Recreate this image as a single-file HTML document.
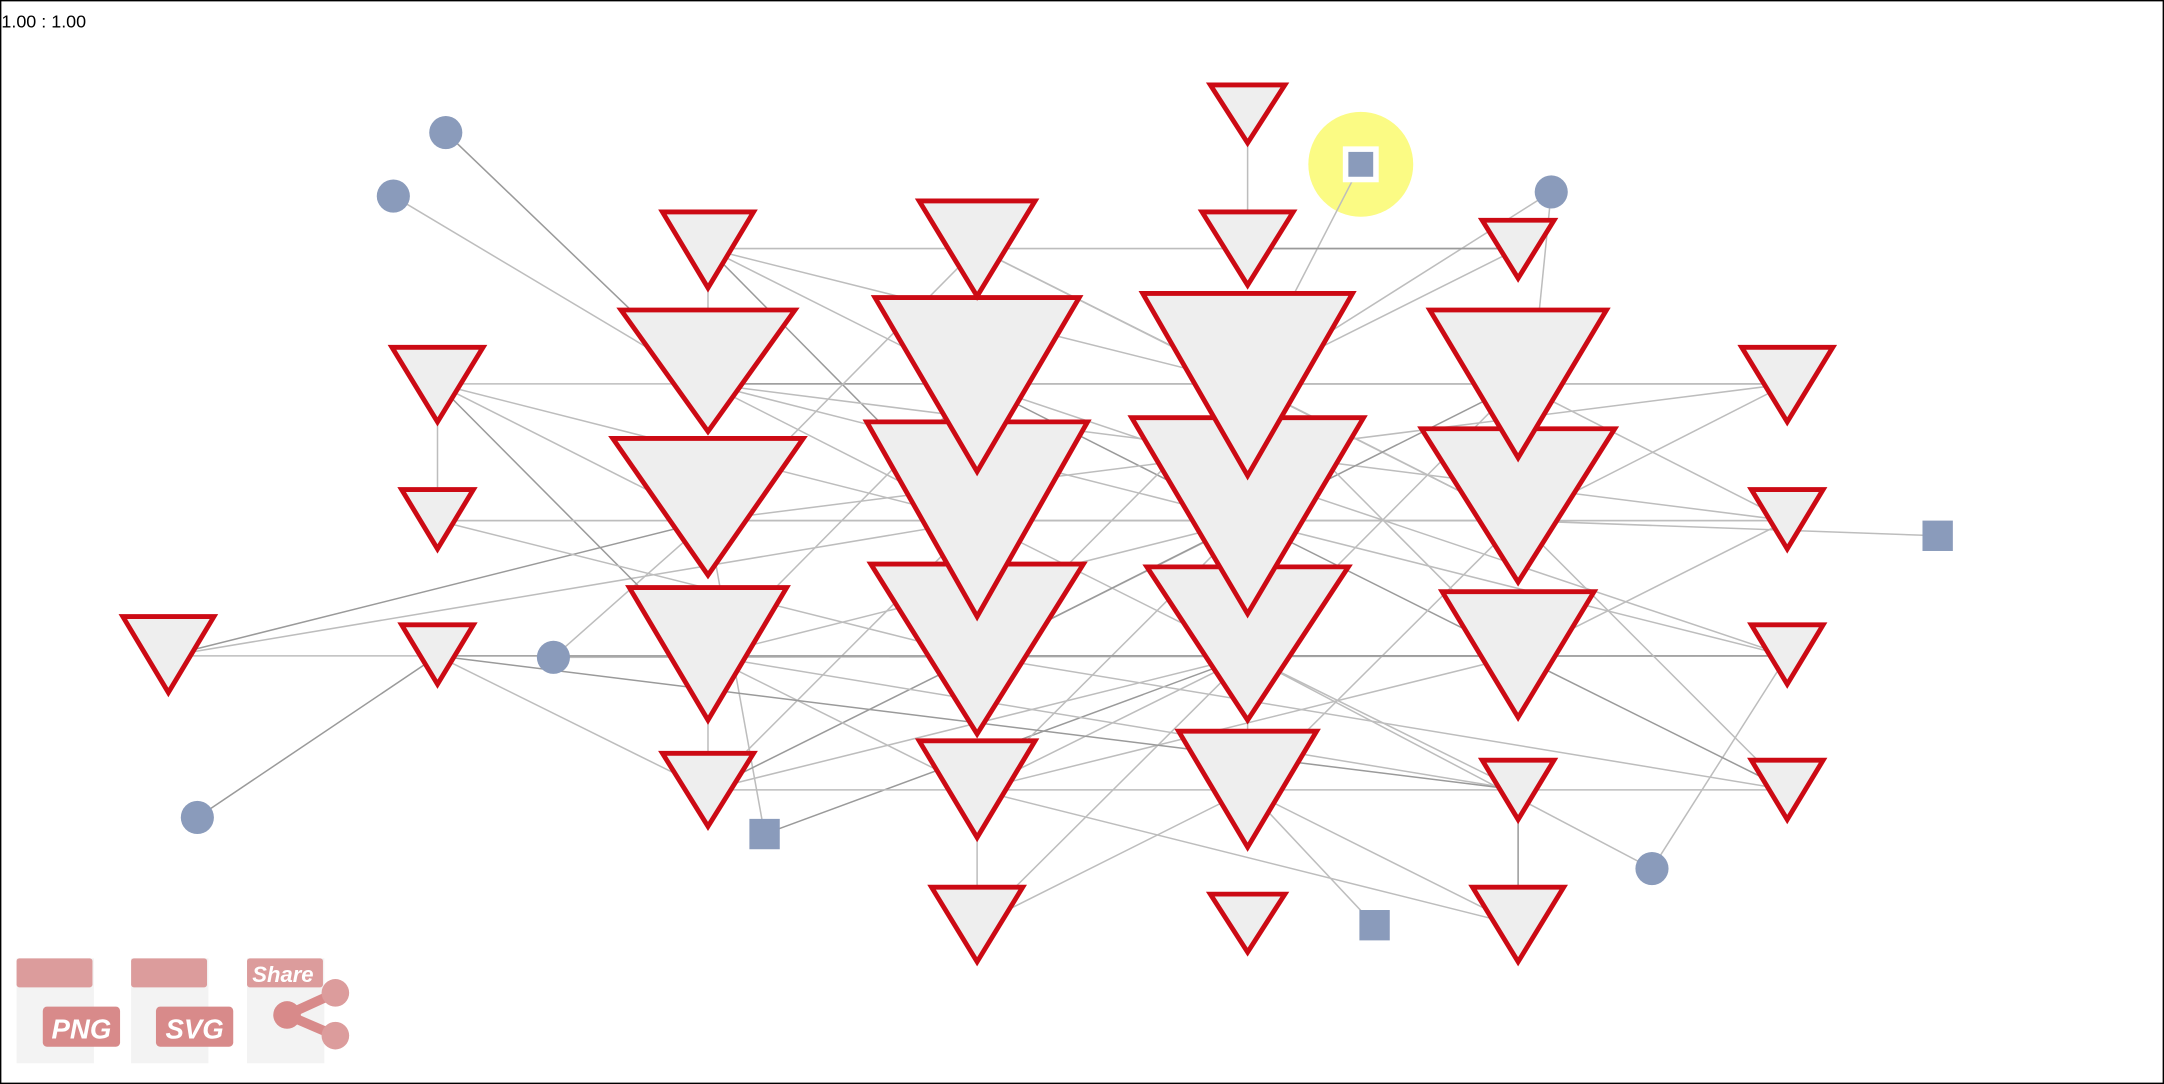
<!DOCTYPE html>
<html><head><meta charset="utf-8"><style>
html,body{margin:0;padding:0;background:#fff;}
#wrap{position:relative;width:2164px;height:1084px;overflow:hidden;}
svg{position:absolute;left:0;top:0;}
</style></head><body>
<div id="wrap">
<svg id="chart" width="2164" height="1084" viewBox="0 0 1568 785" preserveAspectRatio="none">
<rect x="0.5" y="0.5" width="1567" height="784" fill="#fff" stroke="#000" stroke-width="1"/>
<text x="1" y="20" font-family="Liberation Sans, sans-serif" font-size="13" fill="#000">1.00 : 1.00</text>
<circle cx="986" cy="119" r="38" fill="#fbfb84"/>
<g id="edges"></g>
<g id="nodes"></g>
<g>
<rect x="12" y="694" width="56" height="76" fill="#f3f3f3"/>
<rect x="12" y="694" width="55" height="21" rx="2" fill="#dc9c9c"/>
<rect x="31" y="729" width="56" height="29" rx="3" fill="#d88a8a"/>
<text x="59" y="752" text-anchor="middle" font-family="Liberation Sans, sans-serif" font-weight="bold" font-style="italic" font-size="20" fill="#fff">PNG</text>
</g>
<g>
<rect x="95" y="694" width="56" height="76" fill="#f3f3f3"/>
<rect x="95" y="694" width="55" height="21" rx="2" fill="#dc9c9c"/>
<rect x="113" y="729" width="56" height="29" rx="3" fill="#d88a8a"/>
<text x="141" y="752" text-anchor="middle" font-family="Liberation Sans, sans-serif" font-weight="bold" font-style="italic" font-size="20" fill="#fff">SVG</text>
</g>
<g>
<rect x="179" y="694" width="56" height="76" fill="#f3f3f3"/>
<rect x="179" y="694" width="55" height="21" rx="2" fill="#dc9c9c"/>
<text x="205" y="711" text-anchor="middle" font-family="Liberation Sans, sans-serif" font-weight="bold" font-style="italic" font-size="16" fill="#fff">Share</text>
<line x1="243" y1="719" x2="208" y2="735" stroke="#d88a8a" stroke-width="7"/>
<line x1="243" y1="750" x2="208" y2="735" stroke="#d88a8a" stroke-width="7"/>
<circle cx="243" cy="719" r="10" fill="#dc9c9c"/>
<circle cx="243" cy="750" r="10" fill="#dc9c9c"/>
<circle cx="208" cy="735" r="10" fill="#d88a8a"/>
</g>
</svg>
</div>
<script>
const NS='http://www.w3.org/2000/svg';
const triIds=['G3','A1','A2','A3','B0','B1','B2','B3','B4','C0','C1','C2','C3','C4','C5','D9','D0','D1','D2','D3','D4','D5','E0','E1','E2','E3','E4','E5','F1','F2','F3','F4'];
const triX=[122,317,317,317,513,513,513,513,513,708,708,708,708,708,708,904,904,904,904,904,904,904,1100,1100,1100,1100,1100,1100,1295,1295,1295,1295];
const triY=[475,278,377,475,180,278,377,475,572,180,278,377,475,572,670,82,180,278,377,475,572,670,180,278,377,475,572,670,278,377,475,572];
const triTop=[445,250,353,451,152,223,316,424,544,144,214,304,407,535,641,60,152,211,301,409,528,646,158,223,309,427,549,641,250,353,451,549];
const triTip=[503,307,399,497,210,314,418,523,600,216,343,448,533,608,698,105,208,346,446,523,615,691,203,333,423,521,595,698,307,399,497,595];
const triHW=[34,34,27,27,34,64,70,58,34,43,75,81,78,43,34,28,34,77,85,74,51,28,27,65,71,56,27,34,34,27,27,27];
const circIds=['P1','P2','P3','P4','P5','P6'];
const circX=[323,285,1124,401,143,1197];
const circY=[96,142,139,476,592,629];
const sqIds=['S1','S2','S3','S4'];
const sqX=[986,1404,554,996];
const sqY=[119,388,604,670];
const edgeFrom=['P1','P2','S1','P3','P3','G3','G3','G3','P4','P4','P5','P6','P6','S2','S3','S3','S4','D9','A1','B0','E4','C4','B3',
'B0','B0','B0','B0','A1','A1','A1','A1','A2','A2','B1','B1','B1','B1','C0','C0','C0','C1','C1','C1','C1','C2','C2','C2','C2','C3','C3','C3','C3','D1','D1','D1','D2','D2','D2','D2','D3','D3','D3','D3','E1','E1','E1','E2','E2','E2','E3','E3','E3','B3','B3','B4','A3','C4','C4','C5','D4','D0','E0','F1','F2','A3','A3','B2','E1','D2','C2'];
const edgeTo=['B1','B1','D1','D1','E2','B2','C2','A3','B2','F3','A3','F3','D3','E2','B2','D3','D4','D0','A2','B1','E5','C5','B4',
'C1','E0','C2','D1','F1','B2','C2','B3','F2','C3','C2','D2','E1','F2','B2','D1','E2','D2','E1','B3','F3','D3','E2','B4','F2','D2','E3','B4','F4','E2','C3','F1','E3','F3','B3','C4','E4','F3','B4','C5','D3','F1','C3','D4','F4','B2','D1','F4','C4','C4','E4','F4','E3','D3','E5','D4','E5','E0','D1','E2','E3','B4','E4','F1','F2','D4','A2'];

const pos={};
triIds.forEach((id,i)=>pos[id]=[triX[i],triY[i]]);
circIds.forEach((id,i)=>pos[id]=[circX[i],circY[i]]);
sqIds.forEach((id,i)=>pos[id]=[sqX[i],sqY[i]]);

const eg=document.getElementById('edges');
edgeFrom.forEach((f,i)=>{
  const a=pos[f],b=pos[edgeTo[i]];
  if(!a||!b)return;
  const l=document.createElementNS(NS,'line');
  l.setAttribute('x1',a[0]);l.setAttribute('y1',a[1]);
  l.setAttribute('x2',b[0]);l.setAttribute('y2',b[1]);
  l.setAttribute('stroke',i%5===0?'#9a9a9a':'#bdbdbd');
  l.setAttribute('stroke-width','1.1');
  
  
  eg.appendChild(l);
});
const ng=document.getElementById('nodes');
const order=triIds.map((_,i)=>i).sort((a,b)=>triY[b]-triY[a]);
order.forEach(i=>{
  const cx=triX[i],t=triTop[i]+1.5,p=triTip[i]-1.5,hw=triHW[i]-1;
  const path=document.createElementNS(NS,'path');
  path.setAttribute('d',`M${cx-hw},${t}L${cx+hw},${t}L${cx},${p}Z`);
  path.setAttribute('fill','#eeeeee');
  path.setAttribute('stroke','#cc0a14');
  path.setAttribute('stroke-width','3.5');
  
  
  ng.appendChild(path);
});
circIds.forEach((id,i)=>{
  const c=document.createElementNS(NS,'circle');
  c.setAttribute('cx',circX[i]);c.setAttribute('cy',circY[i]);c.setAttribute('r','12');
  c.setAttribute('fill','#8a9bbb');
  
  
  ng.appendChild(c);
});
sqIds.forEach((id,i)=>{
  const r=document.createElementNS(NS,'rect');
  r.setAttribute('x',sqX[i]-11);r.setAttribute('y',sqY[i]-11);
  r.setAttribute('width','22');r.setAttribute('height','22');
  r.setAttribute('fill','#8a9bbb');
  if(id==='S1'){r.setAttribute('stroke','#fff');r.setAttribute('stroke-width','4');}
  
  
  ng.appendChild(r);
});
</script>
</body></html>
